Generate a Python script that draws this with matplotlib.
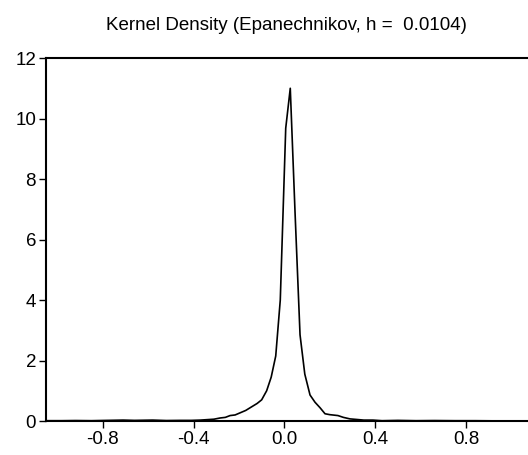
import matplotlib
matplotlib.use("Agg")
import matplotlib.pyplot as plt

# density curve vertices
x_vals = [-1.05, -0.98, -0.92, -0.85, -0.78, -0.71, -0.66, -0.58, -0.52, -0.46,
          -0.41, -0.37, -0.33, -0.31, -0.283, -0.26, -0.239, -0.217, -0.195, -0.17,
          -0.144, -0.12, -0.10, -0.078, -0.058, -0.038, -0.018, 0.006, 0.026, 0.047,
          0.069, 0.09, 0.113, 0.135, 0.157, 0.179, 0.20, 0.236, 0.26, 0.289,
          0.32, 0.35, 0.39, 0.43, 0.50, 0.58, 0.66, 0.75, 0.84, 0.93, 1.02, 1.10]
y_vals = [0.01, 0.01, 0.015, 0.01, 0.02, 0.03, 0.02, 0.03, 0.015, 0.02,
          0.02, 0.03, 0.05, 0.06, 0.10, 0.12, 0.18, 0.20, 0.27, 0.35,
          0.47, 0.58, 0.70, 1.00, 1.45, 2.15, 4.00, 9.68, 11.0, 6.90,
          2.85, 1.55, 0.86, 0.62, 0.44, 0.24, 0.21, 0.18, 0.12, 0.07,
          0.05, 0.03, 0.03, 0.01, 0.02, 0.01, 0.015, 0.01, 0.01, 0.005, 0.005, 0.005]

x_ticks = [-0.8, -0.4, 0.0, 0.4, 0.8]
y_ticks = [0, 2, 4, 6, 8, 10, 12]
title = "Kernel Density (Epanechnikov, h =  0.0104)"

plt.rcParams["font.family"] = ["Liberation Sans", "DejaVu Sans"]

fig = plt.figure(figsize=(5.28, 4.55), dpi=100)
ax = fig.add_axes([0.0866, 0.0747, 1 - 0.0866, 0.8725 - 0.0747])

ax.plot(x_vals, y_vals, color="black", lw=1.2)

ax.set_xlim(-1.051, 1.073)
ax.set_ylim(0, 12)
ax.set_xticks(x_ticks)
ax.set_xticklabels([f"{v:.1f}" for v in x_ticks])
ax.set_yticks(y_ticks)
ax.tick_params(direction="out", length=5, width=1, labelsize=13.5, pad=2)

for s in ["left", "top", "bottom"]:
    ax.spines[s].set_linewidth(1.5)
ax.spines["right"].set_visible(False)

fig.text(0.543, 0.945, title, ha="center", va="center", fontsize=13.5)

fig.savefig("out.png", dpi=100)
